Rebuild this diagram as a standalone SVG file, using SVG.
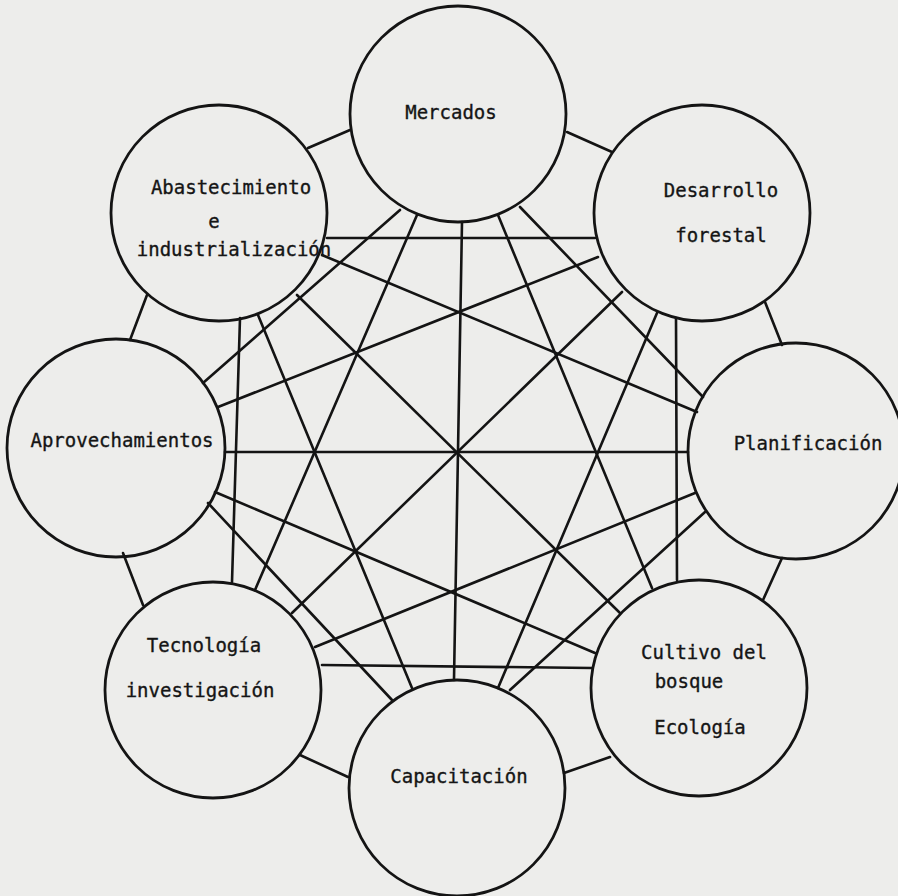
<svg xmlns="http://www.w3.org/2000/svg" width="898" height="896" viewBox="0 0 898 896">
<style>
.bg{fill:#ededeb}
.c{fill:none;stroke:#141414;stroke-width:2.8}
.l{stroke:#141414;stroke-width:2.6;stroke-linecap:round}
.t{font-family:"DejaVu Sans Mono","Liberation Mono",monospace;font-size:19px;fill:#151515;stroke:#151515;stroke-width:0.35;text-anchor:middle}
</style>
<rect class="bg" x="0" y="0" width="898" height="896"/>
<g id="connectors">
<!-- Mercados -->
<line class="l" x1="350" y1="130" x2="308" y2="148"/>
<line class="l" x1="567" y1="132" x2="612" y2="152"/>
<line class="l" x1="400" y1="210" x2="203" y2="383"/>
<line class="l" x1="417" y1="215" x2="255" y2="590"/>
<line class="l" x1="462" y1="222" x2="454" y2="680"/>
<line class="l" x1="520" y1="207" x2="703" y2="397"/>
<line class="l" x1="498" y1="215" x2="652" y2="588"/>
<!-- Abastecimiento -->
<line class="l" x1="327" y1="238" x2="595" y2="238"/>
<line class="l" x1="322" y1="255" x2="697" y2="412"/>
<line class="l" x1="297" y1="295" x2="620" y2="613"/>
<line class="l" x1="258" y1="315" x2="412" y2="688"/>
<line class="l" x1="240" y1="318" x2="232" y2="582"/>
<line class="l" x1="147" y1="295" x2="130" y2="340"/>
<!-- Desarrollo -->
<line class="l" x1="598" y1="257" x2="218" y2="407"/>
<line class="l" x1="622" y1="292" x2="292" y2="613"/>
<line class="l" x1="657" y1="313" x2="498" y2="688"/>
<line class="l" x1="676" y1="318" x2="677" y2="580"/>
<line class="l" x1="765" y1="302" x2="782" y2="345"/>
<!-- Aprovechamientos -->
<line class="l" x1="225" y1="452" x2="688" y2="452"/>
<line class="l" x1="215" y1="492" x2="595" y2="653"/>
<line class="l" x1="208" y1="503" x2="392" y2="700"/>
<line class="l" x1="123" y1="553" x2="143" y2="605"/>
<!-- Planificacion -->
<line class="l" x1="695" y1="493" x2="315" y2="647"/>
<line class="l" x1="705" y1="512" x2="510" y2="690"/>
<line class="l" x1="782" y1="558" x2="763" y2="600"/>
<!-- Tecnologia -->
<line class="l" x1="322" y1="665" x2="592" y2="668"/>
<line class="l" x1="300" y1="755" x2="348" y2="777"/>
<!-- Cultivo -->
<line class="l" x1="610" y1="757" x2="564" y2="773"/>
</g>
<g id="node-mercados">
<circle class="c" cx="458" cy="114" r="108"/>
<text class="t" x="451" y="119">Mercados</text>
</g>
<g id="node-abastecimiento">
<circle class="c" cx="219" cy="213" r="108"/>
<text class="t" x="231" y="194">Abastecimiento</text>
<text class="t" x="214" y="228">e</text>
<text class="t" x="234" y="256">industrialización</text>
</g>
<g id="node-desarrollo">
<circle class="c" cx="702" cy="213" r="108"/>
<text class="t" x="721" y="197">Desarrollo</text>
<text class="t" x="721" y="242">forestal</text>
</g>
<g id="node-aprovechamientos">
<circle class="c" cx="116" cy="448" r="109"/>
<text class="t" x="122" y="447">Aprovechamientos</text>
</g>
<g id="node-planificacion">
<circle class="c" cx="796" cy="451" r="108"/>
<text class="t" x="808" y="450">Planificación</text>
</g>
<g id="node-tecnologia">
<circle class="c" cx="213" cy="690" r="108"/>
<text class="t" x="204" y="652">Tecnología</text>
<text class="t" x="200" y="697">investigación</text>
</g>
<g id="node-cultivo">
<circle class="c" cx="699" cy="688" r="108"/>
<text class="t" x="704" y="659">Cultivo del</text>
<text class="t" x="689" y="688">bosque</text>
<text class="t" x="700" y="734">Ecología</text>
</g>
<g id="node-capacitacion">
<circle class="c" cx="457" cy="788" r="108"/>
<text class="t" x="459" y="783">Capacitación</text>
</g>
</svg>
